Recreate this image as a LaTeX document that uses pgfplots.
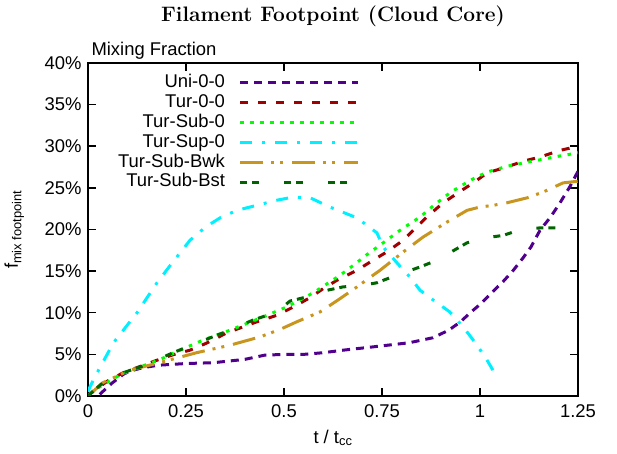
\documentclass[border=0pt]{standalone}
\usepackage{pgfplots}
\pgfplotsset{compat=1.18}
\usepackage{fontspec}
\setsansfont{Liberation Sans}
\renewcommand{\familydefault}{\sfdefault}

\definecolor{cUni}{RGB}{80,0,140}
\definecolor{cTur}{RGB}{160,0,0}
\definecolor{cSub}{RGB}{0,255,0}
\definecolor{cSup}{RGB}{0,240,255}
\definecolor{cBwk}{RGB}{200,150,30}
\definecolor{cBst}{RGB}{0,100,0}

\newcommand{\lbl}{\fontsize{18.5}{22}\selectfont}

\begin{document}
\begin{tikzpicture}
\path[use as bounding box] (0,0) rectangle (617bp,454bp);
\begin{axis}[
  at={(88bp,58bp)}, anchor=south west,
  scale only axis, width=490bp, height=333bp,
  xmin=0, xmax=1.25, ymin=0, ymax=40,
  xtick={0,0.25,0.5,0.75,1,1.25},
  xticklabels={0,0.25,0.5,0.75,1,1.25},
  ytick={0,5,10,15,20,25,30,35,40},
  yticklabels={0\%,5\%,10\%,15\%,20\%,25\%,30\%,35\%,40\%},
  tick align=inside,
  major tick length=8bp,
  tick style={line width=1.5bp, black},
  axis line style={line width=2bp},
  ticklabel style={font=\lbl},
  yticklabel style={xshift=-3bp},
  xticklabel style={yshift=-5bp},
  xlabel={t / t\textsubscript{cc}},
  xlabel style={font=\lbl, at={(axis description cs:0.5,0)}, anchor=base, yshift=-47bp},
  ylabel={f\textsubscript{mix footpoint}},
  ylabel style={font=\lbl, at={(axis description cs:-0.1429,0.5)}, anchor=base},
  legend cell align=right,
  legend plot pos=right,
  legend image code/.code={\draw[#1] (0bp,0bp) -- (118bp,0bp);},
  legend style={draw=none, fill=none, font=\lbl,
    at={(axis description cs:0.555,0.967)}, anchor=north east,
    inner sep=0pt, outer sep=0pt, column sep=14bp, row sep=1.9bp,
    nodes={inner sep=0pt, text height=13.5bp, text depth=4.5bp}},
  every axis plot/.append style={line width=3bp, line cap=butt},
  clip mode=individual,
]
\node[anchor=center, font=\rmfamily\bfseries\fontsize{21}{25}\selectfont]
  at (axis description cs:0.5,1.141) {Filament Footpoint (Cloud Core)};
\node[anchor=base west, font=\lbl] at (axis description cs:0,1.024) {Mixing Fraction};

% Uni-0-0
\addplot[cUni, dash pattern=on 8bp off 6bp] coordinates {
 (0.03,0.2) (0.06,1.5) (0.09,2.6) (0.107,3.0) (0.14,3.4) (0.18,3.7) (0.25,3.9)
 (0.32,4.0) (0.4,4.4) (0.45,4.9) (0.5,5.0) (0.55,5.0) (0.6,5.2) (0.65,5.5)
 (0.727,5.9) (0.82,6.4) (0.88,7.0) (0.92,7.9) (0.95,8.9) (0.975,10.0) (1.0,11.0)
 (1.03,12.4) (1.06,13.8) (1.085,15.1) (1.11,16.6) (1.13,17.9) (1.153,19.9)
 (1.18,21.5) (1.204,23.2) (1.23,25.2) (1.25,27.0)};
\addlegendentry{Uni-0-0}

% Tur-0-0
\addplot[cTur, dash pattern=on 8bp off 10bp] coordinates {
 (0,0) (0.005,0.3) (0.05,1.8) (0.09,2.8) (0.13,3.5) (0.176,4.3) (0.22,5.0)
 (0.26,5.5) (0.3,6.3) (0.355,7.6) (0.43,8.9) (0.482,9.7) (0.52,10.6) (0.566,11.8)
 (0.6,12.9) (0.635,13.9) (0.686,15.1) (0.727,16.3) (0.762,17.3) (0.804,18.7)
 (0.864,21.5) (0.906,23.2) (0.95,24.6) (0.983,25.6) (1.018,26.8) (1.068,27.5)
 (1.11,28.2) (1.153,28.7) (1.204,29.5) (1.25,30.0)};
\addlegendentry{Tur-0-0}

% Tur-Sub-0
\addplot[cSub, dash pattern=on 3.5bp off 6.5bp] coordinates {
 (0.005,0.3) (0.03,1.1) (0.08,2.5) (0.133,3.5) (0.18,4.3) (0.235,5.5) (0.293,6.7)
 (0.362,7.9) (0.447,9.5) (0.507,10.7) (0.575,12.4) (0.643,14.5) (0.68,15.8)
 (0.712,17.0) (0.753,18.4) (0.796,19.9) (0.847,21.5) (0.885,23.0) (0.923,24.4)
 (0.975,25.9) (1.018,26.9) (1.07,27.6) (1.145,28.3) (1.2,28.8) (1.25,29.2)};
\addlegendentry{Tur-Sub-0}

% Tur-Sup-0
\addplot[cSup, dash pattern=on 12bp off 10bp on 3bp off 10bp] coordinates {
 (0,0.5) (0.005,1.1) (0.02,2.5) (0.065,6.4) (0.125,10.0) (0.176,13.6) (0.21,15.7)
 (0.26,18.7) (0.3,20.3) (0.337,21.4) (0.38,22.3) (0.43,22.9) (0.48,23.5)
 (0.524,23.9) (0.567,23.8) (0.617,22.7) (0.686,21.4) (0.737,19.6) (0.753,17.9)
 (0.788,16.0) (0.821,14.3) (0.847,12.7) (0.89,11.2) (0.923,10.1) (0.957,8.3)
 (0.983,6.7) (1.013,4.7) (1.033,3.1)};
\addlegendentry{Tur-Sup-0}

% Tur-Sub-Bwk
\addplot[cBwk, dash pattern=on 23bp off 8bp on 3bp off 6bp on 3bp off 9bp] coordinates {
 (0,0) (0.038,1.6) (0.107,3.1) (0.19,4.1) (0.277,5.2) (0.362,6.1) (0.439,7.1)
 (0.49,8.0) (0.532,8.9) (0.592,10.1) (0.64,11.6) (0.686,13.1) (0.727,14.5)
 (0.745,15.1) (0.804,17.3) (0.855,19.1) (0.916,20.9) (0.967,22.3) (1.0,22.7)
 (1.033,22.9) (1.068,23.2) (1.12,23.8) (1.161,24.5) (1.212,25.6) (1.25,25.8)};
\addlegendentry{Tur-Sub-Bwk}

% Tur-Sub-Bst
\addplot[cBst, dash pattern=on 7bp off 5bp on 7bp off 25bp] coordinates {
 (0,0) (0.038,1.6) (0.09,2.8) (0.14,3.6) (0.217,5.2) (0.28,6.4) (0.345,7.6)
 (0.42,9.1) (0.457,9.7) (0.49,10.4) (0.515,11.4) (0.558,11.9) (0.6,12.6)
 (0.65,13.1) (0.7,13.3) (0.737,13.6) (0.77,14.2) (0.847,15.5) (0.89,16.3)
 (0.93,17.4) (0.967,18.4) (1.0,18.9) (1.06,19.3) (1.085,19.7) (1.12,20.0)
 (1.153,20.2) (1.25,20.2)};
\addlegendentry{Tur-Sub-Bst}
\end{axis}
\end{tikzpicture}
\end{document}
